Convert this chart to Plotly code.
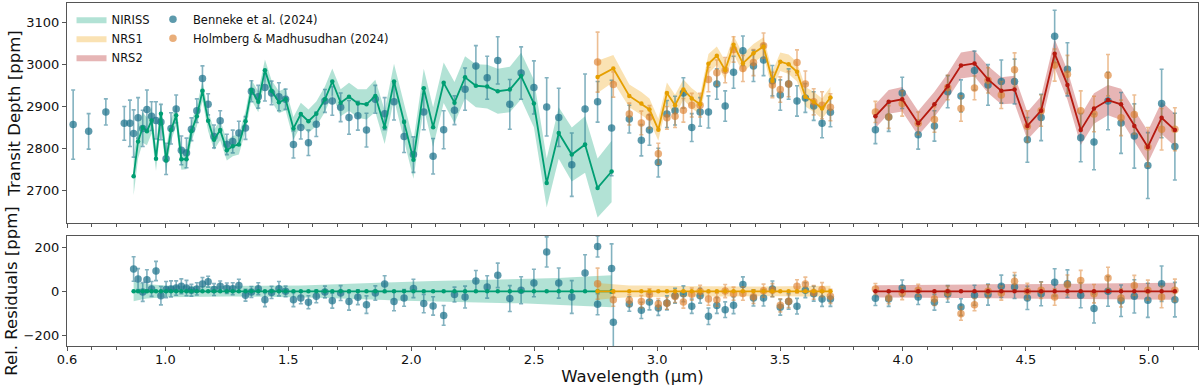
import plotly.graph_objects as go

# ---- NIRISS -------------------------------------------------------------
# Benneke et al. (2024) points bluewards of the model grid
ben_short_wl = [0.625, 0.688, 0.758, 0.833, 0.856]
ben_short_depth = [2857, 2841, 2887, 2860, 2860]
ben_short_err = [82, 42, 31, 40, 55]

niriss_wl = [0.871, 0.889, 0.908, 0.925, 0.944, 0.962, 0.982, 1.003, 1.023, 1.044,
             1.065, 1.086, 1.106, 1.128, 1.151, 1.174, 1.198, 1.223, 1.250, 1.274,
             1.299, 1.326, 1.350, 1.378, 1.405, 1.432, 1.462, 1.489, 1.521, 1.551,
             1.582, 1.614, 1.649, 1.679, 1.713, 1.747, 1.783, 1.818, 1.854, 1.892,
             1.930, 1.971, 2.009, 2.051, 2.089, 2.132, 2.176, 2.219, 2.263, 2.309,
             2.352, 2.401, 2.447, 2.499, 2.551, 2.600, 2.653, 2.707, 2.758, 2.815]
niriss_model = [2735, 2817, 2850, 2841, 2867, 2776, 2883, 2772, 2844, 2879,
                2775, 2775, 2841, 2877, 2937, 2866, 2821, 2844, 2796, 2806,
                2810, 2865, 2939, 2911, 2986, 2937, 2910, 2917, 2848, 2882,
                2865, 2883, 2917, 2959, 2909, 2923, 2907, 2905, 2925, 2851,
                2959, 2863, 2774, 2943, 2851, 2956, 2909, 2969, 2949, 2947,
                2936, 2940, 2972, 2907, 2719, 2837, 2786, 2810, 2707, 2746]
niriss_sig = [45, 40, 36, 33, 31, 29, 28, 27, 26, 25,
              25, 24, 24, 24, 24, 24, 24, 24, 24, 24,
              24, 24, 24, 25, 25, 25, 26, 26, 27, 27,
              28, 29, 30, 31, 32, 33, 34, 36, 38, 40,
              42, 44, 45, 46, 47, 48, 49, 50, 51, 52,
              53, 54, 55, 56, 58, 61, 64, 67, 70, 73]
ben_niriss_depth = [2836, 2873, 2848, 2893, 2877, 2867, 2863, 2776, 2848, 2894,
                    2796, 2790, 2846, 2890, 2966, 2905, 2829, 2866, 2810, 2817,
                    2837, 2849, 2936, 2923, 2945, 2932, 2923, 2917, 2810, 2850,
                    2814, 2858, 2913, 2913, 2898, 2874, 2878, 2844, 2917, 2883,
                    2911, 2829, 2786, 2887, 2782, 2845, 2891, 2941, 2996, 2968,
                    3009, 2905, 2979, 2945, 2899, 2874, 2762, 2894, 2911, 2849]
ben_niriss_err = [56, 48, 43, 46, 34, 44, 42, 37, 37, 33,
                  34, 35, 27, 28, 30, 25, 27, 24, 24, 27,
                  28, 27, 25, 27, 32, 28, 33, 24, 32, 27,
                  30, 29, 27, 34, 34, 40, 34, 40, 33, 38,
                  43, 38, 42, 42, 42, 45, 34, 50, 48, 51,
                  56, 59, 62, 63, 69, 69, 75, 83, 48, 113]
ben_niriss_res = [102, 56, -3, 53, 11, 93, -20, 8, 11, 15,
                  23, 15, 5, 11, 33, 44, 8, 23, 14, 12,
                  27, -18, -3, 12, -38, -5, 12, 0, -38, -30,
                  -50, -23, -3, -43, -8, -46, -27, -61, -8, 33,
                  -46, -30, 13, -56, -67, -110, -15, -26, 47, 20,
                  73, -33, 5, 38, 180, 38, -26, 84, 205, 104]

# ---- NRS1 ---------------------------------------------------------------
nrs1_wl = [2.758, 2.822, 2.887, 2.936, 2.969, 3.005, 3.040, 3.073, 3.107, 3.141,
           3.175, 3.209, 3.243, 3.277, 3.311, 3.349, 3.392, 3.433, 3.469, 3.501,
           3.535, 3.569, 3.603, 3.637, 3.671, 3.705]
nrs1_model = [2970, 2990, 2925, 2907, 2893, 2845, 2932, 2903, 2940, 2919,
              2905, 3001, 3020, 2986, 3046, 3002, 3026, 3042, 2961, 3006,
              3000, 2982, 2923, 2911, 2895, 2921]
nrs1_sig = [38, 32, 27, 27, 26, 26, 25, 25, 24, 24,
            23, 23, 22, 22, 22, 22, 22, 22, 22, 22,
            23, 23, 23, 24, 24, 25]
ben_nrs1_depth = [2911, 2849, 2870, 2820, 2844, 2767, 2882, 2890, 2932, 2850,
                  2887, 2887, 2953, 2901, 2981, 3032, 2996, 3010, 2961, 2927,
                  2953, 2913, 2920, 2901, 2860, 2886]
ben_nrs1_err = [48, 113, 33, 37, 36, 34, 32, 34, 36, 33,
                34, 38, 36, 36, 38, 35, 37, 37, 36, 36,
                36, 36, 34, 34, 34, 34]
ben_nrs1_res = [-59, -141, -58, -87, -49, -76, -53, -20, -11, -68,
                -20, -114, -65, -84, -64, 31, -30, -30, 11, -73,
                -46, -68, 5, -11, -35, -35]
hol_nrs1_depth = [3005, 2952, 2882, 2861, 2875, 2788, 2873, 2877, 2891, 2903,
                  2903, 2964, 2980, 2986, 3035, 2990, 3004, 3044, 2951, 2940,
                  2953, 3004, 2953, 2911, 2903, 2898]
hol_nrs1_err = [71, 30, 26, 28, 27, 25, 27, 27, 28, 28,
                28, 29, 30, 30, 30, 31, 31, 30, 30, 30,
                30, 30, 31, 31, 32, 32]
hol_nrs1_res = [35, -38, -41, -47, -15, -58, -55, -24, -49, -13,
                -1, -35, -38, 1, -11, -10, -25, 3, 5, -64,
                -45, 23, 34, -5, 8, -23]

# ---- NRS2 ---------------------------------------------------------------
nrs2_wl = [3.888, 3.942, 3.997, 4.062, 4.128, 4.182, 4.236, 4.291, 4.346, 4.400,
           4.454, 4.506, 4.562, 4.617, 4.669, 4.723, 4.777, 4.834, 4.887, 4.941,
           4.996, 5.052, 5.106]
nrs2_model = [2877, 2911, 2917, 2860, 2905, 2948, 2997, 3002, 2964, 2937,
              2940, 2854, 2890, 3025, 2951, 2844, 2895, 2915, 2905, 2854,
              2804, 2873, 2844]
nrs2_sig = [28, 28, 29, 29, 30, 30, 31, 31, 32, 32,
            33, 33, 34, 34, 35, 35, 36, 36, 37, 37,
            38, 38, 39]
ben_nrs2_depth = [2845, 2875, 2932, 2833, 2854, 2935, 2925, 2985, 2951, 2959,
                  2959, 2821, 2874, 3066, 2988, 2826, 2816, 2913, 2861, 2830,
                  2760, 2907, 2805]
ben_nrs2_err = [33, 34, 37, 34, 36, 38, 38, 46, 48, 51,
                53, 53, 55, 62, 63, 57, 66, 68, 72, 76,
                78, 81, 79]
ben_nrs2_res = [-32, -35, 15, -26, -50, -12, -72, -18, -15, 23,
                20, -30, -11, 41, 35, -18, -79, 0, -43, -23,
                -41, 35, -38]
hol_nrs2_depth = [2887, 2875, 2907, 2860, 2869, 2945, 2895, 2944, 2962, 2927,
                  2987, 2853, 2890, 2998, 2976, 2890, 2882, 2974, 2873, 2881,
                  2804, 2846, 2846]
hol_nrs2_err = [25, 27, 30, 27, 30, 29, 30, 28, 30, 32,
                40, 37, 37, 38, 45, 47, 42, 49, 42, 46,
                46, 49, 51]
hol_nrs2_res = [11, -30, -8, 5, -35, -5, -102, -61, 0, -8,
                46, 0, 5, -26, 30, 49, -11, 61, -30, 27,
                5, -26, 5]

x_ticks = [0.6, 1.0, 1.5, 2.0, 2.5, 3.0, 3.5, 4.0, 4.5, 5.0]
x_tick_labels = ["0.6", "1.0", "1.5", "2.0", "2.5", "3.0", "3.5", "4.0", "4.5", "5.0"]

FONT = "DejaVu Sans"
BEN_COLOR = "rgba(30,115,140,0.72)"
BEN_ERR = "rgba(30,115,140,0.55)"
HOL_COLOR = "rgba(220,125,40,0.62)"
HOL_ERR = "rgba(220,125,40,0.5)"
AXIS_COLOR = "#555555"

detectors = [
    ("NIRISS", niriss_wl, niriss_model, niriss_sig, "#009e73", "rgba(0,158,115,0.3)"),
    ("NRS1", nrs1_wl, nrs1_model, nrs1_sig, "#e69f00", "rgba(240,165,20,0.32)"),
    ("NRS2", nrs2_wl, nrs2_model, nrs2_sig, "#b5190f", "rgba(180,30,30,0.33)"),
]


def band_trace(name, wl, centre, sig, fill, xaxis, yaxis, showlegend):
    upper = [c + s for c, s in zip(centre, sig)]
    lower = [c - s for c, s in zip(centre, sig)]
    return go.Scatter(
        x=list(wl) + list(wl[::-1]),
        y=upper + lower[::-1],
        fill="toself",
        fillcolor=fill,
        line={"width": 0},
        mode="lines",
        name=name,
        legendgroup=name,
        showlegend=showlegend,
        legend="legend",
        hoverinfo="skip",
        xaxis=xaxis,
        yaxis=yaxis,
    )


def model_trace(name, wl, values, color, xaxis, yaxis):
    return go.Scatter(
        x=wl,
        y=values,
        mode="lines+markers",
        line={"color": color, "width": 1.8},
        marker={"color": color, "size": 4.5},
        name=name,
        legendgroup=name,
        showlegend=False,
        xaxis=xaxis,
        yaxis=yaxis,
    )


def data_trace(name, wl, values, err, color, err_color, xaxis, yaxis, showlegend):
    return go.Scatter(
        x=wl,
        y=values,
        mode="markers",
        marker={"color": color, "size": 7.5, "line": {"width": 0}},
        error_y={"type": "data", "array": err, "visible": True,
                 "color": err_color, "thickness": 1.6, "width": 2},
        name=name,
        legendgroup=name,
        showlegend=showlegend,
        legend="legend2",
        xaxis=xaxis,
        yaxis=yaxis,
    )


fig = go.Figure()

# bands (top and residual panels)
for name, wl, model, sig, line_color, fill in detectors:
    fig.add_trace(band_trace(name, wl, model, sig, fill, "x2", "y", True))
    fig.add_trace(band_trace(name, wl, [0] * len(wl), sig, fill, "x", "y2", False))

# observed spectra, top panel
ben_wl_all = ben_short_wl + niriss_wl + nrs1_wl[2:] + nrs2_wl
ben_depth_all = ben_short_depth + ben_niriss_depth + ben_nrs1_depth[2:] + ben_nrs2_depth
ben_err_all = ben_short_err + ben_niriss_err + ben_nrs1_err[2:] + ben_nrs2_err
fig.add_trace(data_trace("Benneke et al. (2024)", ben_wl_all, ben_depth_all, ben_err_all,
                         BEN_COLOR, BEN_ERR, "x2", "y", True))
fig.add_trace(data_trace("Holmberg & Madhusudhan (2024)", nrs1_wl + nrs2_wl,
                         hol_nrs1_depth + hol_nrs2_depth, hol_nrs1_err + hol_nrs2_err,
                         HOL_COLOR, HOL_ERR, "x2", "y", True))

# residuals, bottom panel
fig.add_trace(data_trace("Benneke et al. (2024)", niriss_wl + nrs1_wl + nrs2_wl,
                         ben_niriss_res + ben_nrs1_res + ben_nrs2_res,
                         ben_niriss_err + ben_nrs1_err + ben_nrs2_err,
                         BEN_COLOR, BEN_ERR, "x", "y2", False))
fig.add_trace(data_trace("Holmberg & Madhusudhan (2024)", nrs1_wl + nrs2_wl,
                         hol_nrs1_res + hol_nrs2_res, hol_nrs1_err + hol_nrs2_err,
                         HOL_COLOR, HOL_ERR, "x", "y2", False))

# model lines on top
for name, wl, model, sig, line_color, fill in detectors:
    fig.add_trace(model_trace(name, wl, model, line_color, "x2", "y"))
    fig.add_trace(model_trace(name, wl, [0] * len(wl), line_color, "x", "y2"))

axis_common = {
    "showline": True,
    "linecolor": AXIS_COLOR,
    "linewidth": 1.3,
    "mirror": True,
    "ticks": "outside",
    "ticklen": 4,
    "tickwidth": 1.2,
    "tickcolor": AXIS_COLOR,
    "showgrid": False,
    "zeroline": False,
    "automargin": False,
    "tickfont": {"family": FONT, "size": 13, "color": "#111111"},
}

x_common = dict(axis_common)
x_common.update({
    "range": [0.6, 5.2],
    "tickmode": "array",
    "tickvals": x_ticks,
    "ticktext": x_tick_labels,
    "ticklabelstandoff": -3,
    "minor": {"dtick": 0.1, "tick0": 0.6, "ticks": "outside", "ticklen": 3,
              "tickcolor": AXIS_COLOR, "tickwidth": 1},
})

title_font = {"family": FONT, "size": 16.5, "color": "#111111"}

fig.update_layout(
    width=1200,
    height=388,
    margin={"l": 67, "r": 2, "t": 3, "b": 42},
    paper_bgcolor="white",
    plot_bgcolor="white",
    font={"family": FONT, "color": "#111111"},
    xaxis={**x_common, "anchor": "y2", "domain": [0, 1],
           "title": {"text": "Wavelength (µm)", "font": title_font, "standoff": 0}},
    xaxis2={**x_common, "anchor": "y", "domain": [0, 1], "showticklabels": False, "matches": "x"},
    yaxis={**axis_common, "domain": [0.3586, 1.0], "range": [2624, 3145],
           "tickvals": [2700, 2800, 2900, 3000, 3100], "anchor": "x2",
           "title": {"text": "Transit Depth [ppm]", "font": title_font, "standoff": 1}},
    yaxis2={**axis_common, "domain": [0.0, 0.3207], "range": [-250, 253],
            "tickvals": [-200, 0, 200], "ticktext": ["\u2212200", "0", "200"], "anchor": "x",
            "title": {"text": "Rel. Residuals [ppm]", "font": title_font, "standoff": 1}},
    legend={"x": 0.004, "y": 0.995, "xanchor": "left", "yanchor": "top",
            "bgcolor": "rgba(255,255,255,0)", "font": {"family": FONT, "size": 11.5},
            "tracegroupgap": 0, "itemwidth": 30},
    legend2={"x": 0.076, "y": 0.995, "xanchor": "left", "yanchor": "top",
             "bgcolor": "rgba(255,255,255,0)", "font": {"family": FONT, "size": 11.5},
             "tracegroupgap": 0, "itemwidth": 30},
    showlegend=True,
)

fig.write_html("out.html", config={"displayModeBar": False},
               post_script="document.body.style.margin = '0';")
